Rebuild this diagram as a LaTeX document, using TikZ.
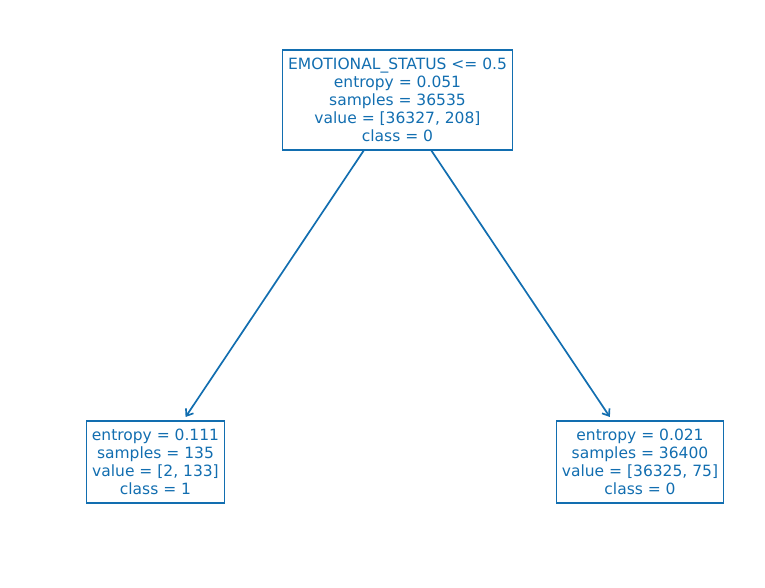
\documentclass[tikz,border=0pt]{standalone}
\usepackage{fontspec}
\setmainfont{DejaVu Sans}
\usepackage{tikz}
\usetikzlibrary{arrows.meta,positioning}
\definecolor{treeblue}{RGB}{18,110,176}

\begin{document}
\begin{tikzpicture}[
    x=1pt, y=-1pt,
    box/.style={rectangle, draw=treeblue, line width=1.8pt, text=treeblue, align=center,
        font=\fontsize{15.5}{18}\selectfont, inner xsep=5.5pt, inner ysep=8pt, outer sep=0pt},
    arrow/.style={-{Straight Barb[length=6pt,width=9pt]}, treeblue, line width=1.7pt, shorten >=5pt}
]
\useasboundingbox (0,0) rectangle (765,588);

% Nodes
\node[box] (root) at (397.5,100) {EMOTIONAL\_STATUS <= 0.5\\entropy = 0.051\\samples = 36535\\value = [36327, 208]\\class = 0};
\node[box] (left) at (155.5,462) {entropy = 0.111\\samples = 135\\value = [2, 133]\\class = 1};
\node[box] (right) at (640,462) {entropy = 0.021\\samples = 36400\\value = [36325, 75]\\class = 0};

% Arrows
\draw[arrow] (root) -- (left);
\draw[arrow] (root) -- (right);

\end{tikzpicture}
\end{document}
